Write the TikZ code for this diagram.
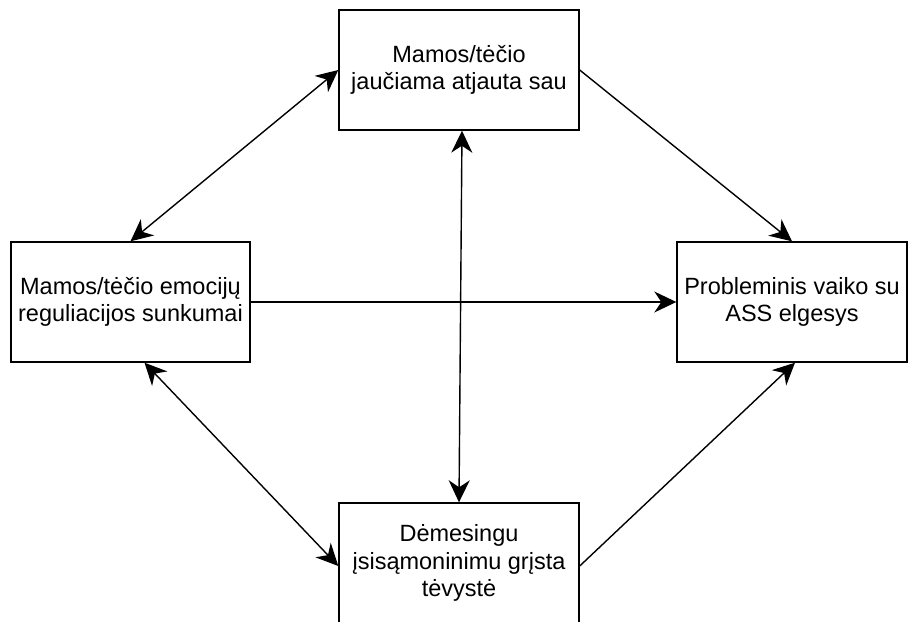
\documentclass[tikz,border=0pt]{standalone}
\usepackage{fontspec}
\setmainfont{Liberation Sans}
\usetikzlibrary{arrows.meta}

\begin{document}
\begin{tikzpicture}[x=1pt, y=-1pt, line width=1.4pt,
	>={Stealth[length=22pt, width=21pt, inset=7pt]},
	box/.style={draw, rectangle, minimum height=120pt, align=center,
		font=\fontsize{23.5}{27.5}\selectfont}]
	\useasboundingbox (0,0) rectangle (910,621);

	\node [box, minimum width=240pt] (atjauta)  at (459,70)    {Mamos/tėčio\\jaučiama atjauta sau};
	\node [box, minimum width=239pt] (emocijos) at (130.5,302) {Mamos/tėčio emocijų\\reguliacijos sunkumai};
	\node [box, minimum width=230pt] (elgesys)  at (792,302)   {Probleminis vaiko su\\ASS elgesys};
	\node [box, minimum width=240pt] (tevyste)  at (459,563)   {Dėmesingu\\įsisąmoninimu grįsta\\tėvystė};

	\draw [<->] (emocijos.north) -- (atjauta.west);
	\draw [->]  (atjauta.east) -- (elgesys.north);
	\draw [->]  (emocijos.east) -- (elgesys.west);
	\draw [<->] ([xshift=3pt]atjauta.south) -- (tevyste.north);
	\draw [<->] ([xshift=14pt]emocijos.south) -- ([yshift=-3pt]tevyste.west);
	\draw [->]  ([yshift=-3pt]tevyste.east) -- ([xshift=3pt]elgesys.south);
\end{tikzpicture}
\end{document}
